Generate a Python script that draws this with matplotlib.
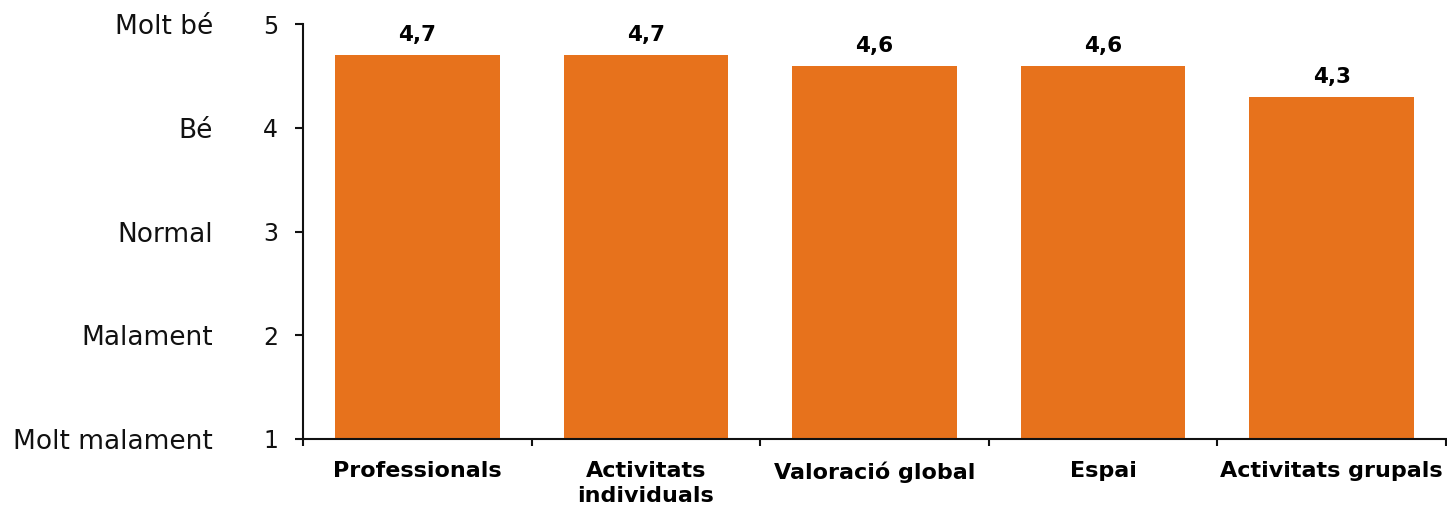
import matplotlib
matplotlib.use("Agg")
import matplotlib.pyplot as plt
from matplotlib.ticker import FixedLocator

categories = ["Professionals", "Activitats\nindividuals", "Valoració global", "Espai", "Activitats grupals"]
values = [4.7, 4.7, 4.6, 4.6, 4.3]
value_labels = ["4,7", "4,7", "4,6", "4,6", "4,3"]
y_ticks = [1, 2, 3, 4, 5]
y_tick_labels = ["1", "2", "3", "4", "5"]
scale_labels = ["Molt malament", "Malament", "Normal", "Bé", "Molt bé"]

bar_color = "#E7721C"

fig = plt.figure(figsize=(14.47, 5.07), dpi=100)
ax = fig.add_axes([303 / 1447, 1 - 439 / 507, (1446 - 303) / 1447, (439 - 24) / 507])

x = list(range(len(categories)))
ax.bar(x, [v - 1 for v in values], bottom=1, width=0.72, color=bar_color, zorder=2)

ax.set_xlim(-0.5, len(categories) - 0.5)
ax.set_ylim(1, 5)

for s in ["top", "right"]:
    ax.spines[s].set_visible(False)
for s in ["left", "bottom"]:
    ax.spines[s].set_linewidth(1.5)
    ax.spines[s].set_color("#111111")

ax.set_yticks(y_ticks)
ax.set_yticklabels(y_tick_labels, fontsize=17, color="#111111")
ax.tick_params(axis="y", direction="out", length=5.8, width=1.5, pad=12, color="#111111")

ax.set_xticks(x)
ax.set_xticklabels(categories, fontsize=16, fontweight="bold", color="#000000", linespacing=1.3, va="top")
ax.tick_params(axis="x", which="major", length=0, pad=16)
ax.xaxis.set_minor_locator(FixedLocator([i + 0.5 for i in range(-1, len(categories))]))
ax.tick_params(axis="x", which="minor", direction="out", length=5, width=1.5, color="#111111")

for yv, lab in zip(y_ticks, scale_labels):
    ax.annotate(lab, xy=(0, yv), xycoords=("axes fraction", "data"),
                xytext=(-90, -3), textcoords="offset pixels",
                ha="right", va="center", fontsize=19, color="#111111")

for xi, v, lab in zip(x, values, value_labels):
    ax.annotate(lab, xy=(xi, v), xycoords="data", xytext=(0, 14), textcoords="offset pixels",
                ha="center", va="baseline", fontsize=15.5, fontweight="bold", color="#000000")

fig.savefig("out.png", dpi=100)
